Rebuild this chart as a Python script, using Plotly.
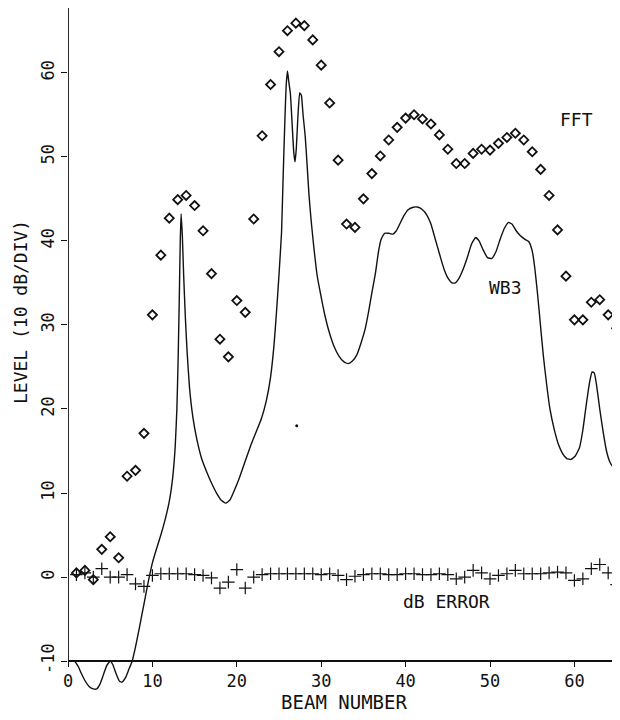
import plotly.graph_objects as go

# ---------------- data ----------------
beams = list(range(1, 66))

fft_level = [0.5, 0.8, -0.3, 3.3, 4.8, 2.3, 12.0, 12.7, 17.1, 31.2,
             38.3, 42.7, 44.9, 45.4, 44.2, 41.2, 36.1, 28.3, 26.2, 32.9,
             31.5, 42.6, 52.5, 58.6, 62.5, 65.0, 65.9, 65.6, 63.9, 60.9,
             56.4, 49.6, 42.0, 41.6, 45.0, 48.0, 50.1, 52.0, 53.5, 54.6,
             55.0, 54.5, 53.9, 52.6, 50.9, 49.2, 49.2, 50.4, 50.9, 50.8,
             51.6, 52.3, 52.8, 52.0, 50.6, 48.5, 45.4, 41.3, 35.8, 30.6,
             30.6, 32.7, 33.0, 31.2, 29.6]

db_error = [0.3, 0.5, 0.0, 1.0, 0.0, 0.0, 0.3, -0.8, -1.1, 0.2,
            0.4, 0.4, 0.4, 0.4, 0.3, 0.2, -0.1, -1.3, -0.6, 0.9,
            -1.3, 0.0, 0.3, 0.4, 0.4, 0.4, 0.4, 0.4, 0.4, 0.3,
            0.4, 0.2, -0.3, 0.1, 0.3, 0.4, 0.4, 0.3, 0.3, 0.4,
            0.4, 0.3, 0.3, 0.4, 0.3, -0.2, 0.0, 0.8, 0.5, -0.2,
            0.2, 0.4, 0.8, 0.4, 0.4, 0.4, 0.5, 0.6, 0.5, -0.4,
            -0.2, 1.0, 1.5, 0.5, -0.9]

wb3_beam = [0.8, 1.2, 1.6, 2.0, 2.5, 3.0, 3.4, 3.8, 4.2, 4.6, 5.0, 5.3, 5.7, 6.1, 6.4,
            6.8, 7.2, 7.6, 8.0, 8.5, 9.0, 9.5, 10.0, 10.5, 11.0, 11.5, 12.0, 12.4,
            12.7, 12.9, 13.05, 13.2, 13.3, 13.4, 13.55, 13.7, 13.9, 14.1, 14.4, 14.8,
            15.2, 15.8, 16.4, 17.0, 17.6, 18.2, 18.7, 19.2, 19.7, 20.3, 21.0, 21.7,
            22.3, 22.9, 23.5, 24.0, 24.4, 24.7, 25.0, 25.3, 25.5, 25.7, 25.85, 26.0,
            26.15, 26.35, 26.55, 26.75, 26.9, 27.05, 27.25, 27.45, 27.65, 27.85, 28.1,
            28.3, 28.55, 28.8, 29.1, 29.5, 29.9, 30.4, 30.9, 31.5, 32.1, 32.7, 33.2,
            33.7, 34.2, 34.7, 35.2, 35.6, 36.0, 36.4, 36.8, 37.1, 37.5, 38.0, 38.5,
            38.9, 39.3, 39.8, 40.3, 40.9, 41.5, 42.0, 42.5, 43.0, 43.4, 43.8, 44.2,
            44.6, 45.0, 45.5, 45.9, 46.3, 46.8, 47.3, 47.8, 48.3, 48.7, 49.2, 49.7,
            50.2, 50.7, 51.2, 51.7, 52.2, 52.6, 53.1, 53.6, 54.1, 54.6, 55.0, 55.3,
            55.6, 55.9, 56.3, 56.7, 57.1, 57.6, 58.1, 58.6, 59.1, 59.6, 60.1, 60.6,
            61.0, 61.4, 61.8, 62.1, 62.35, 62.6, 63.0, 63.4, 63.8, 64.2, 64.6, 65.0]
wb3_level = [-10.0, -10.6, -11.5, -12.3, -13.0, -13.3, -13.3, -12.7, -11.6, -10.5, -10.0,
             -10.4, -11.5, -12.4, -12.5, -12.0, -11.0, -10.0, -8.3, -5.8, -3.2, -0.6,
             1.7, 3.4, 5.0, 6.8, 9.0, 11.8, 15.5, 20.0, 26.0, 34.0, 40.0, 43.2, 40.5,
             36.0, 31.0, 27.0, 22.5, 19.0, 16.7, 14.2, 12.6, 11.2, 10.0, 9.1, 8.8,
             9.2, 10.3, 11.8, 13.8, 15.8, 17.3, 18.8, 21.0, 23.8, 27.5, 31.5, 36.0,
             41.0, 48.0, 54.5, 58.5, 60.2, 59.0, 57.5, 54.0, 50.5, 49.4, 51.0, 55.0,
             57.6, 57.3, 55.0, 52.5, 49.5, 45.5, 42.5, 39.5, 36.0, 33.8, 31.3, 29.3,
             27.5, 26.3, 25.6, 25.4, 25.7, 26.4, 27.8, 29.5, 31.5, 33.8, 36.0, 38.8,
             40.2, 40.9, 40.9, 40.8, 41.2, 42.0, 43.0, 43.7, 44.0, 44.0, 43.7, 43.1,
             42.0, 40.6, 39.2, 37.8, 36.5, 35.6, 35.0, 35.0, 35.5, 36.6, 38.0, 39.6,
             40.4, 40.0, 38.9, 38.0, 37.9, 38.7, 40.2, 41.5, 42.2, 42.0, 41.2, 40.6,
             40.2, 39.9, 38.8, 36.8, 34.0, 30.8, 26.5, 23.0, 20.0, 17.6, 15.8, 14.7,
             14.1, 14.0, 14.4, 15.4, 17.5, 20.5, 23.2, 24.4, 24.3, 23.0, 20.0, 17.3,
             15.0, 13.7, 13.1, 12.9]

stray_beam = [27.1]
stray_level = [18.0]

x_ticks = [0, 10, 20, 30, 40, 50, 60]
y_ticks = [-10, 0, 10, 20, 30, 40, 50, 60]
y_tick_text = ["-10", "0", "10", "20", "30", "40", "50", "60"]

labels = [("FFT", 60.2, 54.4), ("WB3", 51.8, 34.5), ("dB ERROR", 44.9, -2.9)]

# ---------------- layout constants ----------------
# the page body adds an 8 px offset, so the figure is drawn 8 px smaller
FIG_W, FIG_H = 612, 712
XMIN, XMAX = 0, 65.4
YMIN, YMAX = -14.5, 67.7
AXIS_Y = -10
MONO = "DejaVu Sans Mono"
INK = "#111111"

fig = go.Figure()

fig.add_trace(go.Scatter(x=wb3_beam, y=wb3_level, mode="lines",
                         line=dict(color=INK, width=1.4, shape="spline", smoothing=0.4),
                         showlegend=False, hoverinfo="skip"))
fig.add_trace(go.Scatter(x=beams, y=fft_level, mode="markers",
                         marker=dict(symbol="diamond-open", size=7, color=INK,
                                     line=dict(width=1.8, color=INK)),
                         showlegend=False))
fig.add_trace(go.Scatter(x=beams, y=db_error, mode="markers",
                         marker=dict(symbol="cross-thin", size=9, color=INK,
                                     line=dict(width=1.2, color=INK)),
                         showlegend=False))
fig.add_trace(go.Scatter(x=stray_beam, y=stray_level, mode="markers",
                         marker=dict(symbol="circle", size=3, color=INK),
                         showlegend=False, hoverinfo="skip"))

axis_pos = (AXIS_Y - YMIN) / (YMAX - YMIN)

fig.update_layout(
    width=FIG_W, height=FIG_H,
    margin=dict(l=60, r=0, t=0, b=21, autoexpand=False),
    paper_bgcolor="white", plot_bgcolor="white",
    font=dict(family=MONO, color=INK, size=16),
    xaxis=dict(range=[XMIN, XMAX], anchor="free", position=axis_pos,
               automargin=False,
               showline=True, linecolor=INK, linewidth=1.5,
               ticks="outside", ticklen=5, tickwidth=1.2, tickcolor=INK,
               tickvals=x_ticks, tickfont=dict(family=MONO, size=17),
               showgrid=False, zeroline=False,
               title=dict(text="BEAM NUMBER", font=dict(family=MONO, size=19),
                          standoff=2)),
    yaxis=dict(range=[YMIN, YMAX], showline=False, automargin=False,
               ticks="outside", ticklen=6, tickwidth=1.2, tickcolor=INK,
               tickvals=y_ticks, ticktext=y_tick_text, tickangle=-90,
               tickfont=dict(family=MONO, size=17),
               showgrid=False, zeroline=False),
    shapes=[dict(type="line", xref="x", yref="y", x0=XMIN, x1=XMIN,
                 y0=AXIS_Y, y1=YMAX, line=dict(color=INK, width=1.8))],
)

for text, bx, lv in labels:
    fig.add_annotation(x=bx, y=lv, xref="x", yref="y", text=text, showarrow=False,
                       font=dict(family=MONO, size=18, color=INK))

fig.add_annotation(x=-0.087, y=0.56, xref="paper", yref="paper",
                   xanchor="center", yanchor="middle",
                   text="LEVEL (10 dB/DIV)", textangle=-90, showarrow=False,
                   font=dict(family=MONO, size=18, color=INK))

fig.write_html("out.html")
